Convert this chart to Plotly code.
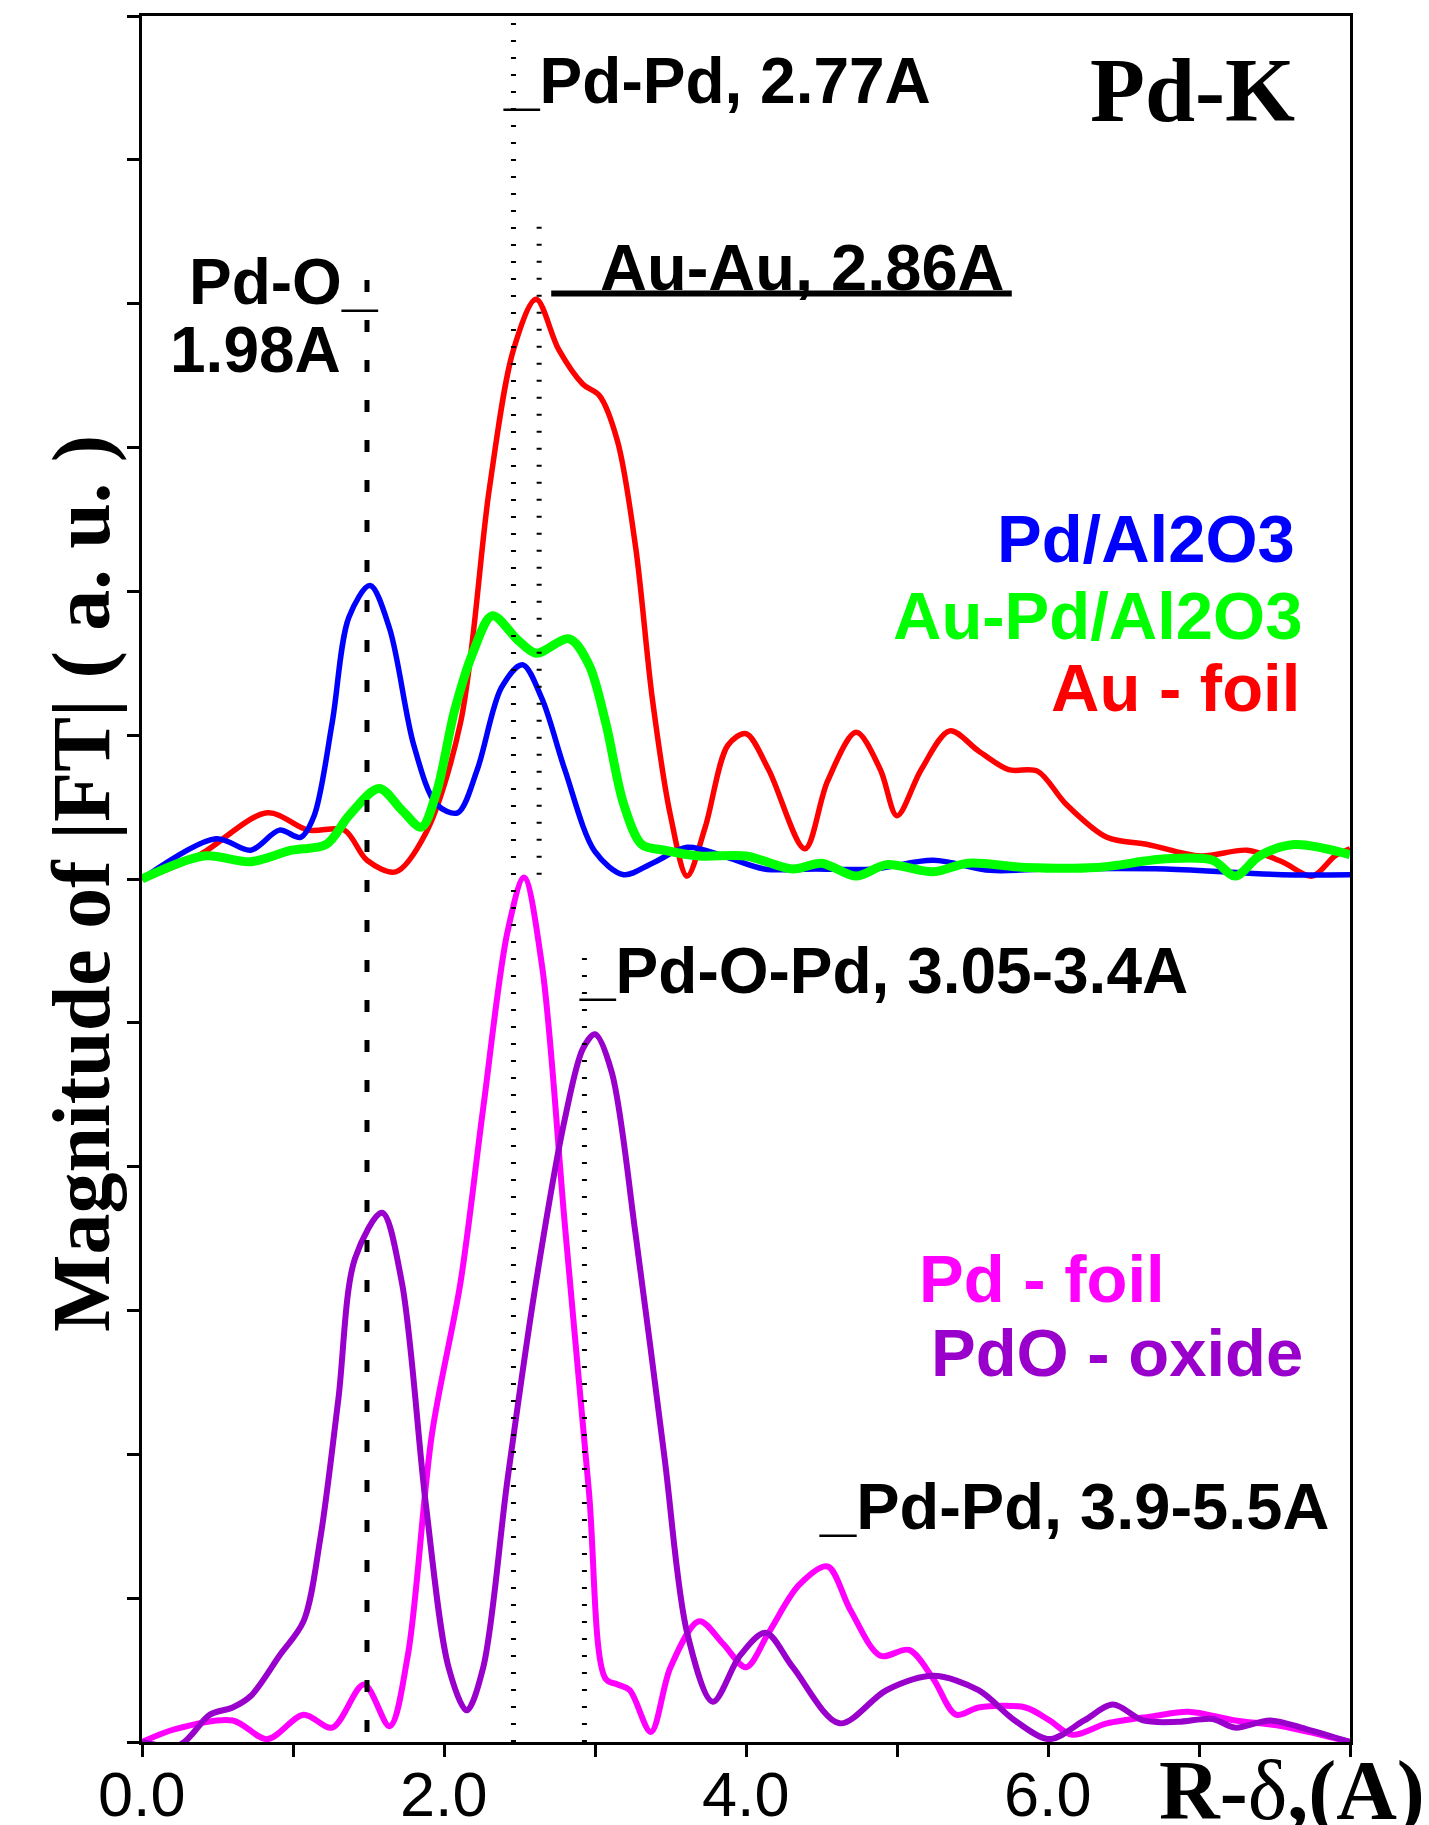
import plotly.graph_objects as go

# ---------------- data (R in Angstrom, magnitude in axis-tick units) ----------------
au_foil_r = [0, 0.37, 0.83, 1.10, 1.34, 1.49, 1.68, 1.88, 2.11, 2.30, 2.46, 2.61, 2.76, 2.92, 3.03,
             3.15, 3.27, 3.38, 3.50, 3.61, 3.73, 3.88, 4.00, 4.15, 4.39, 4.54, 4.73, 4.89, 5.00,
             5.16, 5.35, 5.54, 5.74, 5.93, 6.12, 6.39, 6.66, 7.01, 7.32, 7.55, 7.75, 7.90, 8.00]
au_foil_m = [6.00, 6.16, 6.46, 6.34, 6.34, 6.13, 6.05, 6.32, 7.09, 8.71, 9.68, 10.03, 9.68, 9.44, 9.36,
             9.04, 8.30, 7.25, 6.44, 6.02, 6.36, 6.93, 7.01, 6.76, 6.21, 6.68, 7.02, 6.76, 6.44,
             6.76, 7.03, 6.89, 6.76, 6.75, 6.52, 6.29, 6.24, 6.16, 6.20, 6.12, 6.02, 6.16, 6.21]

pd_al2o3_r = [0, 0.49, 0.72, 0.91, 1.05, 1.14, 1.26, 1.37, 1.51, 1.64, 1.80, 1.95, 2.09, 2.22, 2.38,
              2.52, 2.65, 2.80, 3.00, 3.19, 3.38, 3.61, 3.85, 4.12, 4.46, 4.85, 5.24, 5.62, 6.01,
              6.78, 7.55, 8.00]
pd_al2o3_m = [6.00, 6.28, 6.20, 6.34, 6.29, 6.44, 7.09, 7.82, 8.04, 7.74, 6.93, 6.52, 6.46, 6.76, 7.33,
              7.49, 7.25, 6.76, 6.19, 6.03, 6.11, 6.22, 6.16, 6.07, 6.07, 6.07, 6.13, 6.06, 6.07,
              6.07, 6.03, 6.03]

aupd_r = [0, 0.41, 0.72, 0.99, 1.22, 1.37, 1.57, 1.72, 1.85, 1.95, 2.07, 2.19, 2.32, 2.49, 2.61,
          2.83, 2.96, 3.07, 3.19, 3.31, 3.46, 3.69, 4.00, 4.31, 4.50, 4.73, 4.93, 5.24, 5.47,
          5.85, 6.32, 6.78, 7.09, 7.24, 7.40, 7.63, 8.00]
aupd_m = [6.00, 6.16, 6.12, 6.20, 6.24, 6.44, 6.63, 6.48, 6.36, 6.60, 7.17, 7.57, 7.83, 7.66, 7.57,
          7.67, 7.49, 7.09, 6.52, 6.24, 6.20, 6.16, 6.16, 6.07, 6.11, 6.02, 6.10, 6.05, 6.11,
          6.08, 6.08, 6.14, 6.13, 6.02, 6.16, 6.24, 6.17]

pd_foil_r = [0, 0.22, 0.60, 0.83, 1.07, 1.26, 1.47, 1.64, 1.76, 1.92, 2.11, 2.26, 2.42, 2.53, 2.65,
             2.80, 2.96, 3.07, 3.15, 3.23, 3.37, 3.50, 3.69, 3.85, 4.00, 4.15, 4.35, 4.54, 4.69,
             4.89, 5.08, 5.24, 5.39, 5.54, 5.85, 6.01, 6.16, 6.39, 6.70, 6.93, 7.24, 7.55, 8.00]
pd_foil_m = [0.00, 0.09, 0.15, 0.02, 0.19, 0.10, 0.40, 0.11, 0.60, 2.14, 3.20, 4.41, 5.63, 6.01, 5.39,
             3.60, 1.74, 0.44, 0.40, 0.36, 0.07, 0.52, 0.84, 0.68, 0.52, 0.76, 1.09, 1.22, 0.92,
             0.60, 0.64, 0.44, 0.19, 0.24, 0.24, 0.15, 0.05, 0.13, 0.18, 0.21, 0.15, 0.11, 0.00]

pdo_r = [0, 0.25, 0.45, 0.60, 0.72, 0.91, 1.07, 1.18, 1.30, 1.41, 1.59, 1.72, 1.88, 2.03, 2.15,
         2.26, 2.42, 2.61, 2.80, 2.92, 3.00, 3.11, 3.27, 3.46, 3.61, 3.78, 3.96, 4.13, 4.31,
         4.62, 4.93, 5.24, 5.54, 5.78, 6.01, 6.24, 6.43, 6.63, 6.86, 7.09, 7.24, 7.47, 7.71, 8.00]
pdo_m = [0.00, -0.02, 0.19, 0.24, 0.32, 0.60, 0.84, 1.41, 2.38, 3.36, 3.68, 3.20, 1.65, 0.52, 0.22,
         0.52, 1.82, 3.20, 4.33, 4.82, 4.92, 4.66, 3.52, 1.98, 0.76, 0.28, 0.60, 0.76, 0.52,
         0.13, 0.36, 0.46, 0.36, 0.15, 0.02, 0.15, 0.26, 0.15, 0.14, 0.16, 0.10, 0.15, 0.09, 0.00]

x_tick_vals = [0, 1, 2, 3, 4, 5, 6, 7, 8]
x_label_vals = [0, 2, 4, 6]
x_label_text = ["0.0", "2.0", "4.0", "6.0"]
y_tick_vals = list(range(13))

BLUE = "#0000FF"
RED = "#FF0000"
GREEN = "#00FF00"
MAGENTA = "#FF00FF"
PURPLE = "#9900CC"

fig = go.Figure()

def add(xs, ys, color, width):
    fig.add_trace(go.Scatter(x=xs, y=ys, mode="lines",
                             line=dict(color=color, width=width, shape="spline", smoothing=0.9),
                             showlegend=False, hoverinfo="skip", cliponaxis=True))

add(pd_foil_r, pd_foil_m, MAGENTA, 6)
add(pdo_r, pdo_m, PURPLE, 6)
add(au_foil_r, au_foil_m, RED, 5.5)
add(pd_al2o3_r, pd_al2o3_m, BLUE, 5.5)
add(aupd_r, aupd_m, GREEN, 9)

DOT = dict(color="black", width=5, dash="2px,15px")
shapes = [
    dict(type="line", xref="x", yref="y", x0=1.49, x1=1.49, y0=0.07, y1=10.2,
         line=dict(color="black", width=5, dash="12px,28px")),
    dict(type="line", xref="x", yref="paper", x0=2.46, x1=2.46, y0=0.0, y1=1.006, line=DOT),
    dict(type="line", xref="x", yref="y", x0=2.63, x1=2.63, y0=6.03, y1=10.55, line=DOT),
    dict(type="line", xref="x", yref="y", x0=2.93, x1=2.93, y0=0.0, y1=5.55, line=DOT),
    dict(type="line", xref="x", yref="y", x0=2.71, x1=5.76, y0=10.07, y1=10.07,
         line=dict(color="black", width=6)),
]

SANS = "Liberation Sans, Arial, sans-serif"
SERIF = "Liberation Serif, Times New Roman, serif"

def txt(x, y, s, color="black", size=64, xanchor="left", family=SANS, bold=True):
    return dict(x=x, y=y, xref="x", yref="y", text=("<b>%s</b>" % s) if bold else s,
                showarrow=False, xanchor=xanchor, yanchor="middle",
                font=dict(family=family, size=size, color=color))

LEG = 67
annotations = [
    txt(1.58, 10.15, "Pd-O_", xanchor="right"),
    txt(1.33, 9.68, "1.98A", xanchor="right"),
    txt(2.38, 11.55, "_Pd-Pd, 2.77A"),
    txt(3.02, 10.25, "Au-Au, 2.86A", size=65),
    txt(2.88, 5.36, "_Pd-O-Pd, 3.05-3.4A"),
    txt(4.47, 1.64, "_Pd-Pd, 3.9-5.5A", size=65),
    txt(6.96, 11.48, "Pd-K", size=90, xanchor="center", family=SERIF),
    txt(7.65, 8.37, "Pd/Al2O3", color=BLUE, xanchor="right", size=LEG),
    txt(7.70, 7.83, "Au-Pd/Al2O3", color=GREEN, xanchor="right", size=LEG),
    txt(7.68, 7.33, "Au - foil", color=RED, xanchor="right", size=LEG),
    txt(6.79, 3.22, "Pd - foil", color=MAGENTA, xanchor="right", size=LEG),
    txt(7.70, 2.71, "PdO - oxide", color=PURPLE, xanchor="right", size=LEG),
]

# page body has an 8px margin; figure is sized/offset so the plot box lands where the reference has it
W, H = 1421, 1817
L, R, T, B = 134, 79, 8, 83

def py(px):
    return (H - B - px) / (H - T - B)

def pxx(px):
    return (px - L) / (W - L - R)

for v, s in zip(x_label_vals, x_label_text):
    annotations.append(dict(x=v, y=py(1786), xref="x", yref="paper", text=s, showarrow=False,
                            xanchor="center", yanchor="middle",
                            font=dict(family=SANS, size=63, color="black")))

annotations.append(dict(x=pxx(73), y=py(876), xref="paper", yref="paper",
                        text="<b>Magnitude of |FT| ( a. u. )</b>",
                        showarrow=False, textangle=-90, xanchor="center", yanchor="middle",
                        font=dict(family=SERIF, size=82, color="black")))
annotations.append(dict(x=pxx(1419), y=py(1783), xref="paper", yref="paper",
                        text="<b>R-</b>δ<b>,(A)</b>",
                        showarrow=False, xanchor="right", yanchor="middle",
                        font=dict(family=SERIF, size=84, color="black")))

fig.update_layout(
    width=W, height=H,
    margin=dict(l=L, r=R, t=T, b=B, autoexpand=False),
    paper_bgcolor="white", plot_bgcolor="white",
    shapes=shapes, annotations=annotations,
    xaxis=dict(range=[0, 8], tickvals=x_tick_vals, showticklabels=False,
               showline=True, linecolor="black", linewidth=3, mirror=True,
               ticks="outside", ticklen=12, tickwidth=3, tickcolor="black",
               showgrid=False, zeroline=False, automargin=False),
    yaxis=dict(range=[0, 12], tickvals=y_tick_vals, showticklabels=False,
               showline=True, linecolor="black", linewidth=3, mirror=True,
               ticks="outside", ticklen=12, tickwidth=3, tickcolor="black",
               showgrid=False, zeroline=False, automargin=False),
)

fig.write_html("out.html")
